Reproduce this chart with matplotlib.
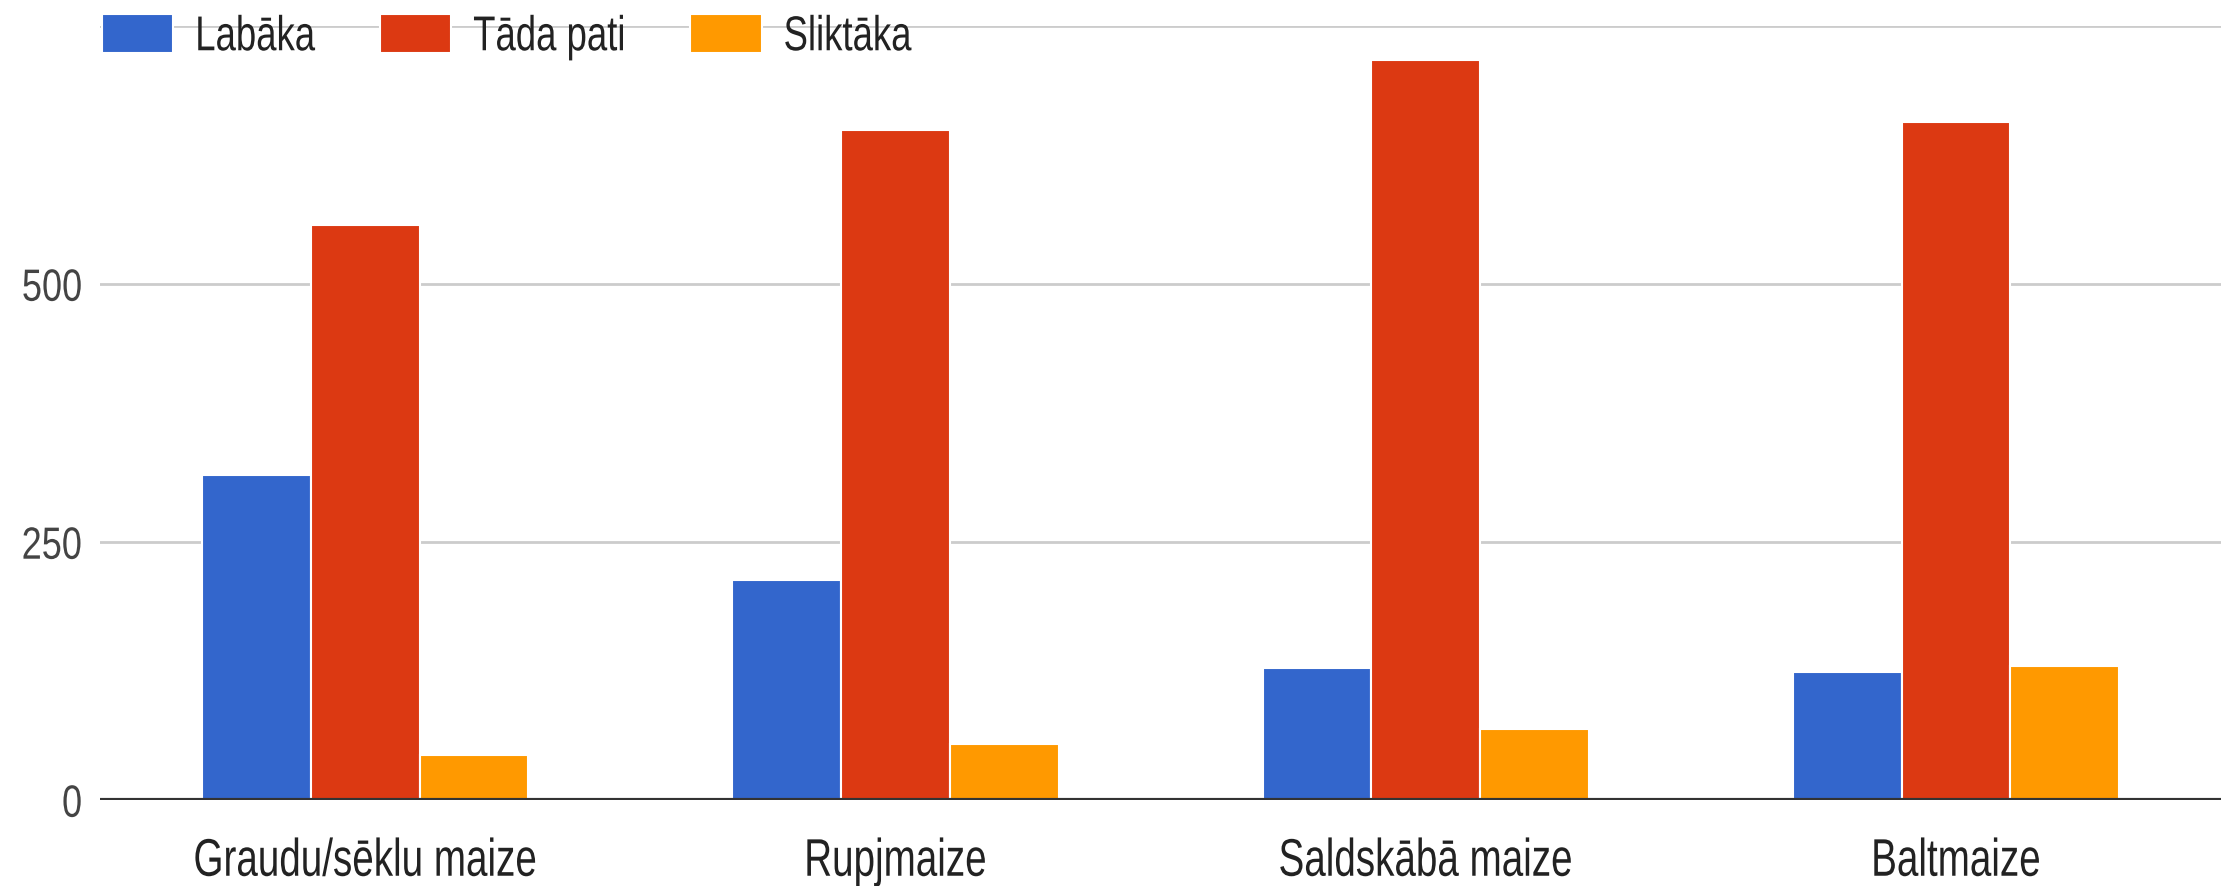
import matplotlib
matplotlib.use("Agg")
import matplotlib.pyplot as plt
from matplotlib.patheffects import AbstractPathEffect
from matplotlib.transforms import Affine2D
import numpy as np

# -----------------------------
# data
# -----------------------------
categories = ["Graudu/sēklu maize", "Rupjmaize", "Saldskābā maize", "Baltmaize"]
series_names = ["Labāka", "Tāda pati", "Sliktāka"]
labaka = [315, 213, 128, 124]
tada_pati = [557, 649, 717, 657]
sliktaka = [44, 54, 69, 130]
y_ticks = [0, 250, 500, 750]
y_tick_labels = ["0", "250", "500", ""]

colors = ["#3366cc", "#dc3912", "#ff9900"]


class StretchY(AbstractPathEffect):
    # the source picture has tall, narrow text: stretch glyphs vertically
    # around a fixed height (in font units, 100 = 1 em)
    def __init__(self, sy, about=0.0):
        super().__init__()
        self.sy = sy
        self.about = about

    def draw_path(self, renderer, gc, tpath, affine, rgbFace=None):
        t = Affine2D().translate(0, -self.about).scale(1, self.sy).translate(0, self.about)
        renderer.draw_path(gc, tpath, t + affine, rgbFace)


plt.rcParams["font.family"] = ["Liberation Sans", "DejaVu Sans"]

fig = plt.figure(figsize=(22.39, 8.87), dpi=100)
ax = fig.add_axes([0.0447, 0.097, 0.9473, 0.8726])

x = np.arange(len(categories))
w = 0.205
for i, (vals, name) in enumerate(zip([labaka, tada_pati, sliktaka], series_names)):
    ax.bar(x + (i - 1) * w, vals, width=w, color=colors[i], label=name,
           edgecolor="white", linewidth=1.5, zorder=3)

ax.set_xlim(-0.5, len(categories) - 0.5)
ax.set_ylim(0, 750)
ax.set_yticks(y_ticks)
ax.set_yticklabels(y_tick_labels)
ax.set_xticks(x)
ax.set_xticklabels(categories)
ax.tick_params(axis="y", length=0, pad=13, labelsize=26, labelcolor="#444444")
ax.tick_params(axis="x", length=0, pad=27, labelsize=27.8, labelcolor="#222222")

for lbl in ax.get_yticklabels():
    lbl.set_path_effects([StretchY(1.25, about=36)])
for lbl in ax.get_xticklabels():
    lbl.set_path_effects([StretchY(1.37, about=72)])

for s in ax.spines.values():
    s.set_visible(False)
ax.grid(axis="y", color="#cccccc", lw=2, zorder=0)
ax.axhline(0, color="#333333", lw=3, zorder=4)

leg = fig.legend(loc="upper left", bbox_to_anchor=(0.0456, 0.983), ncol=3, frameon=False,
                 fontsize=26.3, handlelength=1.95, handleheight=1.26, handletextpad=0.6,
                 columnspacing=1.78, borderaxespad=0, borderpad=0, labelcolor="#222222")
for t in leg.get_texts():
    t.set_path_effects([StretchY(1.34, about=36)])

fig.savefig("out.png", dpi=100, facecolor="white")
